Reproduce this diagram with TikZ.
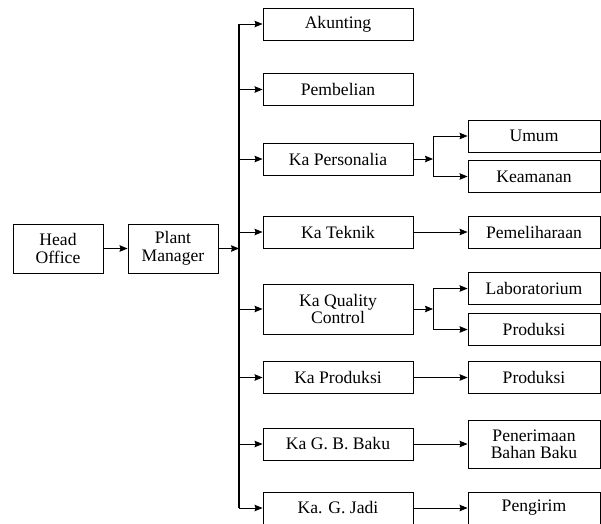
\documentclass[tikz,border=0pt]{standalone}
\usepackage{fontspec}
\setmainfont{Liberation Serif}
\usetikzlibrary{arrows.meta}
\begin{document}
\begin{tikzpicture}[
            x=1pt, y=-1pt,
            unit/.style={draw, line width=0.9pt, inner sep=0pt, align=center,
                minimum width=150pt, minimum height=32pt,
                font=\fontsize{17.6}{17.5}\selectfont},
            subunit/.style={unit, minimum width=132pt},
            topunit/.style={unit, minimum width=90pt, minimum height=49pt},
            link/.style={line width=0.9pt, -{Stealth[length=8pt,width=6.5pt,inset=1pt]}},
            busline/.style={line width=1.5pt}]

            \useasboundingbox (0,0) rectangle (601,523);

            \node[topunit] (headnode) at (58,248.5) {Head\\Office};
            \node[topunit] (plantnode) at (173,248.5) {Plant\\Manager};

            % middle column
            \node[unit] (akunting) at (338,24) {Akunting};
            \node[unit] (pembelian) at (338,89.5) {Pembelian};
            \node[unit] (personalia) at (338,159) {Ka Personalia};
            \node[unit] (teknik) at (338,232) {Ka Teknik};
            \node[unit, minimum height=50pt] (qc) at (338,309) {Ka Quality\\Control};
            \node[unit] (kaprod) at (338,377.5) {Ka Produksi};
            \node[unit] (gbbaku) at (338,444) {Ka G. B. Baku};
            \node[unit] (gjadi) at (338,508) {Ka. G. Jadi};

            % right column
            \node[subunit] (umum) at (534,136) {Umum};
            \node[subunit] (keamanan) at (534,176.5) {Keamanan};
            \node[subunit] (pemeliharaan) at (534,232) {Pemeliharaan};
            \node[subunit] (lab) at (534,288.5) {Laboratorium};
            \node[subunit] (qcprod) at (534,329.5) {Produksi};
            \node[subunit] (produksi) at (534,377.5) {Produksi};
            \node[subunit, minimum height=48pt] (penerimaan) at (534,444) {Penerimaan\\Bahan Baku};
            \node[subunit] (pengirim) at (534,508) {Pengirim};

            \coordinate (bus) at (239,0);
            \coordinate (fork) at (433,0);

            \draw[link] (headnode) -- (plantnode);
            \draw[link] (plantnode) -- (plantnode -| bus);
            \draw[busline] (bus |- akunting.west) -- (bus |- gjadi.west);

            \foreach \n in {akunting,pembelian,personalia,teknik,qc,kaprod,gbbaku,gjadi}{
                \draw[link] (bus |- \n.west) -- (\n.west);
            }

            \foreach \a/\b/\c in {personalia/umum/keamanan, qc/lab/qcprod}{
                \draw[link] (\a.east) -- (fork |- \a.east);
                \draw[line width=0.9pt] (fork |- \b.west) -- (fork |- \c.west);
                \draw[link] (fork |- \b.west) -- (\b.west);
                \draw[link] (fork |- \c.west) -- (\c.west);
            }

            \foreach \a/\b in {teknik/pemeliharaan, kaprod/produksi, gbbaku/penerimaan, gjadi/pengirim}{
                \draw[link] (\a) -- (\b);
            }
        \end{tikzpicture}
\end{document}
